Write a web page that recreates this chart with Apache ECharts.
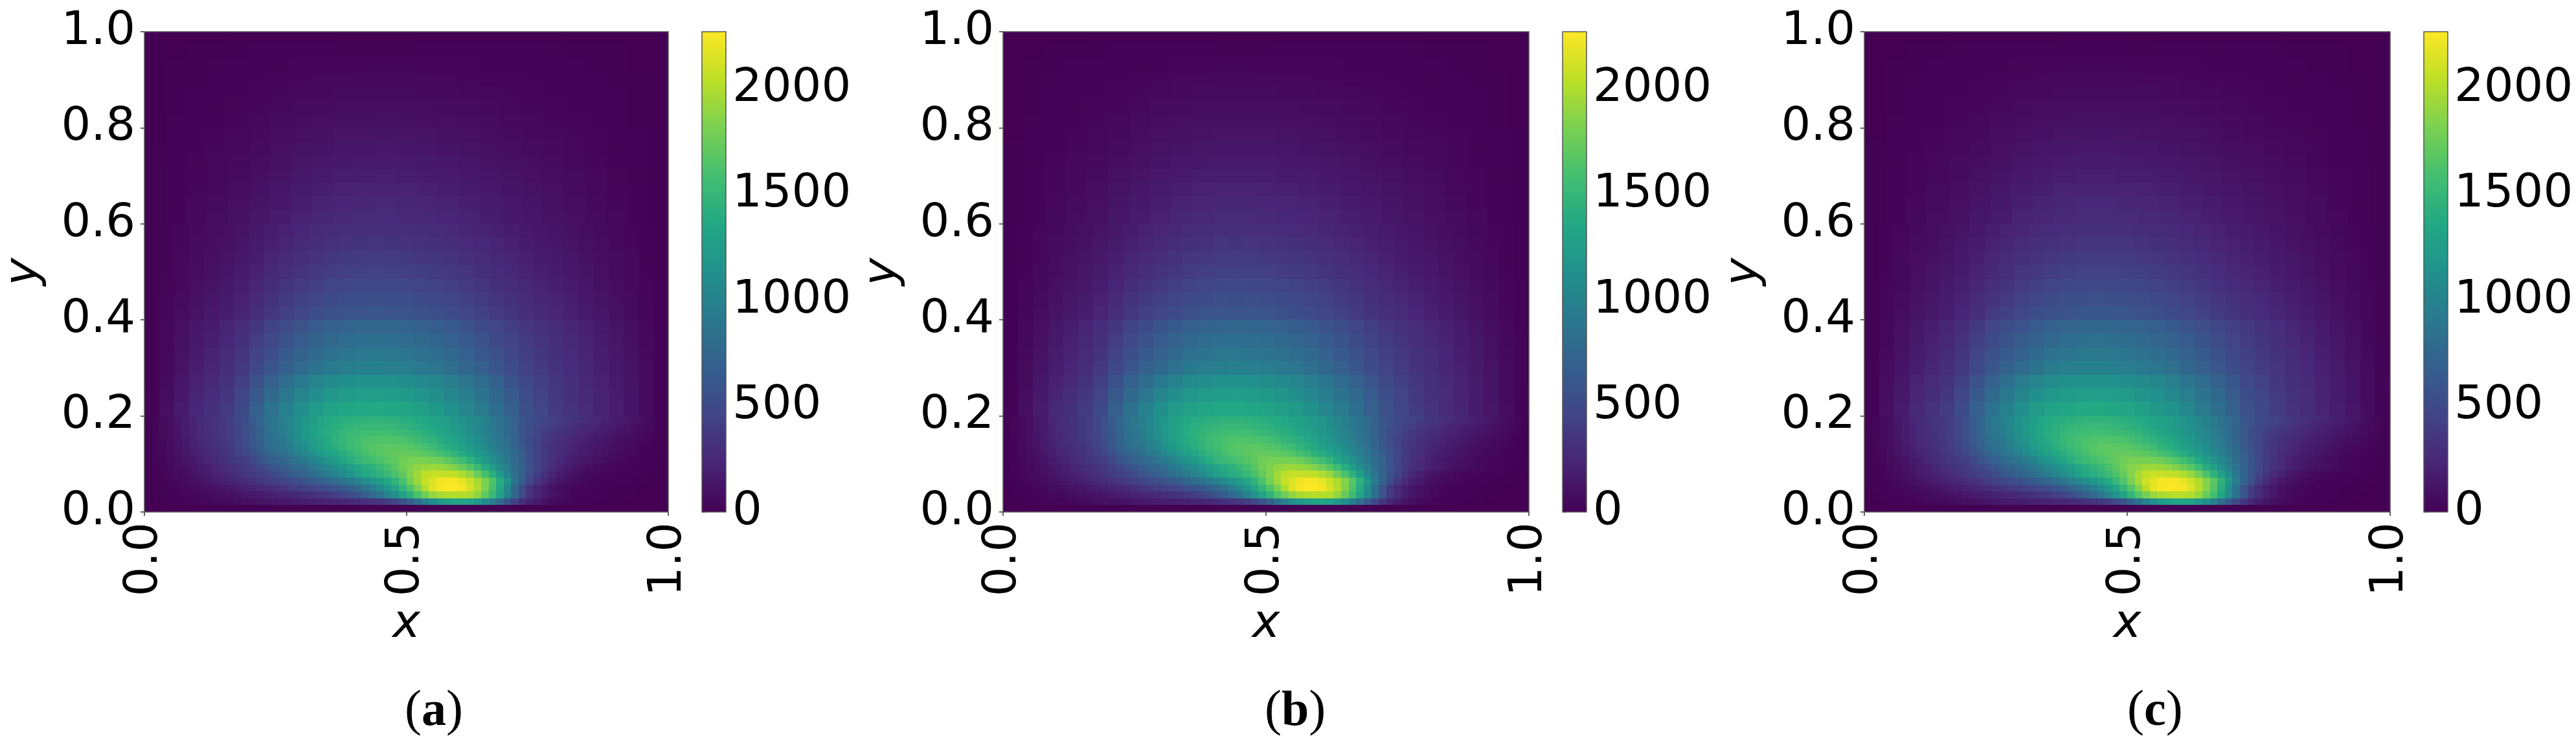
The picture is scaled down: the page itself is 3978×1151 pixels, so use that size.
<!DOCTYPE html>
<html>
<head>
<meta charset="utf-8">
<script src="https://cdn.jsdelivr.net/npm/echarts@6/dist/echarts.min.js"></script>
<style>html,body{margin:0;padding:0;background:#fff}#c{width:3978px;height:1151px}</style>
</head>
<body>
<div id="c"></div>
<script>
const panelNames = ['a', 'b', 'c'];
const colorbarTicks = [0, 500, 1000, 1500, 2000];
const colorbarMax = 2270;
const viridis = ['#440154','#482475','#414487','#355f8d','#2a788e','#21918c','#22a884','#44bf70','#7ad151','#bddf26','#fde725'];
// Row heights of the three tables, bottom to top.
const bandRowHeights = [1/70, 1/35, 1/35];

const fineA = [
[0,0,0,0,0,0,0,0,0,0,0,0,0,0,0,0,0,0,0,0,0,0,0,0,0,0,0,0,0,0,0,0,0,0,0,0,0,0,0,0,0,0,0,0,0,0,0,0,0,0,0,0,0,0,0,0,0,0,0,0,0,0,0,0,0,0,0,0,0,0],
[1,3,6,10,14,19,25,32,40,48,57,66,76,86,97,108,120,135,150,165,175,185,195,205,215,225,240,255,275,300,330,365,410,470,560,680,830,980,1110,1200,1270,1310,1320,1300,1210,1090,950,780,600,440,310,215,150,105,75,52,36,25,17,12,9,7,5,4,3,2,2,1,1,1],
[2,6,11,17,24,32,42,52,64,76,90,104,118,134,150,168,186,205,225,250,268,290,315,340,370,410,460,520,590,670,760,850,1000,1130,1290,1450,1620,1760,1900,1960,2000,2010,2010,1990,1890,1700,1520,1270,1030,770,530,330,240,170,120,85,60,42,30,22,16,12,9,7,5,4,3,2,2,1],
[3,9,16,24,34,46,60,76,94,112,132,152,174,198,222,248,274,300,330,385,410,435,465,500,540,585,640,700,770,850,950,1060,1180,1320,1480,1640,1810,2000,2170,2240,2270,2270,2240,2130,2000,1820,1600,1350,1050,740,500,330,230,160,110,78,55,40,29,21,16,12,9,7,6,4,3,3,2,1],
[4,12,23,36,50,68,90,112,138,165,190,218,248,280,315,350,385,425,465,490,540,590,630,680,740,800,860,930,1010,1090,1160,1250,1350,1470,1610,1790,1930,2080,2150,2230,2250,2240,2180,2080,1970,1820,1640,1400,1150,880,660,480,350,250,180,130,95,70,52,39,30,23,18,14,11,8,6,4,3,2],
[5,16,30,46,64,85,112,150,175,205,240,270,305,340,380,420,450,515,580,630,690,740,800,865,930,1000,1090,1170,1260,1350,1400,1450,1520,1610,1720,1830,1950,2040,2080,2080,2060,2050,1980,1900,1750,1600,1420,1230,1030,830,680,530,410,310,235,178,135,102,78,60,46,36,28,22,17,13,10,7,5,2],
[6,18,34,53,75,100,130,165,195,235,275,305,340,370,420,480,545,595,660,720,770,830,900,960,1040,1110,1170,1260,1330,1400,1450,1520,1600,1680,1770,1840,1880,1920,1930,1920,1880,1830,1750,1650,1530,1380,1240,1090,950,800,690,560,450,360,285,225,178,140,112,90,72,58,46,37,29,22,16,11,7,3],
[7,21,40,62,88,118,155,190,225,265,310,345,375,400,480,560,640,690,740,800,860,930,1000,1080,1150,1240,1310,1400,1470,1530,1570,1615,1660,1710,1775,1800,1810,1810,1790,1770,1700,1640,1560,1460,1350,1240,1130,1020,900,780,670,550,450,370,300,250,205,168,140,115,94,77,62,49,38,28,20,14,8,4],
[8,24,46,72,104,140,180,220,250,285,325,365,415,470,545,625,710,770,830,900,980,1050,1130,1210,1280,1350,1410,1470,1520,1585,1640,1675,1700,1720,1730,1730,1720,1690,1650,1600,1530,1460,1390,1310,1230,1140,1050,960,860,760,660,550,460,375,320,275,235,200,170,145,120,100,82,65,50,37,26,17,10,4],
[8,25,50,80,115,155,198,240,270,300,340,385,440,510,590,680,780,835,885,965,1050,1125,1220,1290,1360,1420,1480,1530,1580,1625,1660,1680,1690,1690,1680,1660,1630,1590,1540,1480,1420,1360,1290,1220,1150,1070,990,910,820,725,610,525,440,365,320,280,245,215,185,160,137,116,95,78,60,45,32,20,11,5],
[9,27,54,86,122,165,210,258,288,320,358,400,460,540,620,715,820,860,905,1010,1090,1170,1260,1320,1385,1450,1500,1545,1580,1610,1630,1640,1640,1630,1610,1580,1540,1500,1460,1410,1360,1300,1240,1170,1100,1030,960,880,800,710,600,515,445,375,335,298,265,235,207,182,158,135,115,97,78,62,45,30,16,6],
[9,28,56,90,128,170,215,260,290,320,355,400,460,535,620,720,825,890,950,1035,1120,1210,1280,1345,1405,1445,1480,1515,1540,1560,1570,1575,1565,1550,1530,1500,1470,1430,1390,1345,1300,1245,1190,1130,1065,1000,930,860,785,700,595,520,460,400,360,325,292,262,235,210,185,162,140,120,100,80,60,40,22,7],
[10,30,58,92,130,175,220,265,295,325,355,405,465,535,625,725,835,900,965,1045,1125,1210,1270,1335,1385,1420,1450,1475,1490,1505,1510,1510,1500,1485,1465,1440,1410,1375,1340,1300,1260,1210,1160,1100,1040,980,910,845,775,695,600,535,480,430,395,360,325,295,265,238,212,188,165,142,120,98,75,50,28,8],
[10,30,60,95,135,180,225,270,300,330,360,410,470,540,630,730,840,905,970,1050,1125,1200,1260,1320,1370,1395,1415,1430,1445,1455,1460,1458,1450,1435,1418,1400,1372,1345,1315,1283,1250,1205,1160,1105,1050,990,920,855,790,705,600,550,505,465,430,400,365,335,305,275,250,225,198,172,148,122,92,62,34,10]
];
const midA = [
[10,88,170,250,310,385,505,680,850,985,1120,1230,1300,1340,1365,1370,1350,1320,1270,1210,1135,1040,935,810,680,545,470,385,325,270,222,175,125,72,25],
[10,78,150,225,285,350,460,620,770,900,1020,1120,1190,1230,1250,1255,1240,1215,1170,1115,1045,960,865,755,640,520,445,370,315,262,215,170,122,70,24],
[9,70,135,205,260,325,420,565,700,815,925,1015,1085,1125,1145,1150,1140,1115,1075,1025,960,880,795,695,590,490,420,355,305,255,208,165,118,68,22],
[9,60,118,180,232,290,370,485,600,695,780,860,925,965,980,985,975,955,920,880,825,755,680,600,515,440,385,330,285,240,195,155,110,62,20],
[9,55,108,165,215,270,340,445,550,635,715,785,845,880,900,905,895,878,845,808,760,695,625,555,480,412,362,315,272,230,185,145,102,58,19],
[8,50,98,150,197,248,310,405,500,578,650,715,770,803,820,825,818,802,772,738,695,637,575,510,445,385,340,297,256,216,172,134,94,53,18],
[7,45,88,135,178,225,282,365,450,520,585,645,695,725,742,748,742,728,702,672,632,580,525,468,410,358,317,277,238,198,158,120,84,48,16],
[7,38,74,112,146,184,230,294,362,418,472,520,560,585,600,602,598,588,567,543,511,470,428,383,340,300,265,232,198,165,132,98,68,38,13],
[6,34,66,100,132,166,208,264,326,378,426,468,505,528,541,546,542,532,514,491,464,428,390,349,310,275,242,212,182,150,118,89,62,35,12],
[6,30,59,90,118,148,186,236,290,337,380,418,452,473,486,490,487,478,461,441,417,385,351,315,280,249,218,191,164,135,106,79,55,31,11],
[5,26,52,79,104,131,165,207,254,295,333,367,398,416,428,432,429,421,407,390,368,340,311,279,248,221,194,170,145,118,92,69,48,27,9],
[5,23,47,71,93,118,148,186,228,265,299,330,357,374,384,388,385,378,365,350,330,306,280,251,224,199,175,153,130,106,83,62,43,24,8],
[4,21,42,63,83,105,132,166,203,236,266,293,317,332,341,345,342,336,325,311,294,272,249,224,200,178,156,137,116,95,74,55,38,22,7],
[4,18,37,56,74,93,117,147,180,209,236,260,281,295,303,306,304,298,288,276,261,242,221,199,178,158,139,122,103,84,66,49,34,19,6]
];
const topA = [
[7,27,50,75,100,134,169,210,240,261,270,272,265,253,236,212,187,158,135,111,89,67,44,25,8],
[6,24,45,67,90,120,152,189,216,234,242,245,238,227,212,190,168,142,122,100,80,60,39,22,7],
[6,21,40,60,80,107,135,168,192,208,215,218,212,202,188,169,149,126,108,89,71,53,35,20,6],
[5,19,35,52,69,93,118,146,167,182,188,190,185,176,164,148,130,110,94,78,62,47,30,17,6],
[4,16,30,45,60,81,103,127,146,158,164,165,161,153,143,129,113,96,82,68,54,41,26,15,5],
[4,14,26,39,52,70,88,110,125,136,141,142,138,132,123,110,97,83,71,58,46,35,23,13,4],
[3,12,22,33,44,59,74,92,105,114,118,120,116,111,103,93,82,69,59,49,39,29,19,11,4],
[3,10,18,27,37,49,62,77,88,96,99,100,97,93,87,78,69,58,50,41,33,25,16,9,3],
[2,8,15,23,30,40,51,63,72,79,81,82,80,76,71,64,56,48,41,34,27,20,13,8,2],
[2,6,12,18,24,32,41,51,58,63,65,66,64,61,57,51,45,38,33,27,22,16,11,6,2],
[1,5,9,14,19,25,32,39,45,49,51,51,50,47,44,40,35,30,25,21,17,13,8,5,2],
[1,4,7,10,14,18,23,29,33,35,37,37,36,34,32,29,25,22,18,15,12,9,6,3,1],
[1,2,4,7,9,12,15,19,21,23,24,24,23,22,21,19,16,14,12,10,8,6,4,2,1],
[0,1,2,3,4,5,6,8,9,10,10,10,10,9,9,8,7,6,5,4,3,2,2,1,0]
];

const fineB = [
[0,0,0,0,0,0,0,0,0,0,0,0,0,0,0,0,0,0,0,0,0,0,0,0,0,0,0,0,0,0,0,0,0,0,0,0,0,0,0,0,0,0,0,0,0,0,0,0,0,0,0,0,0,0,0,0,0,0,0,0,0,0,0,0,0,0,0,0,0,0],
[1,3,6,10,15,20,26,33,41,50,59,68,78,88,99,110,122,137,152,166,176,186,196,206,216,228,243,258,278,303,335,372,420,485,575,695,845,990,1115,1205,1275,1315,1325,1305,1220,1110,975,810,640,480,345,240,170,120,85,60,42,29,20,14,10,8,6,4,3,3,2,1,1,1],
[2,6,11,18,25,34,44,55,67,80,94,108,123,139,156,174,192,212,232,252,270,292,316,342,372,412,462,522,592,672,762,858,1010,1140,1300,1460,1630,1770,1900,1960,2000,2015,2015,1995,1905,1725,1550,1310,1080,830,590,380,275,195,138,98,69,48,34,25,18,13,10,8,6,4,3,2,2,1],
[3,9,17,25,36,48,63,80,98,117,137,158,180,204,228,254,280,306,335,378,404,430,460,495,535,580,635,695,765,845,945,1055,1180,1320,1475,1630,1800,1990,2160,2235,2270,2270,2240,2140,2010,1840,1630,1390,1110,820,570,385,265,185,128,90,64,46,33,24,18,14,10,8,6,5,4,3,2,1],
[4,13,24,37,52,70,92,114,140,167,192,220,250,282,317,352,387,427,467,488,536,586,626,676,736,796,856,926,1006,1086,1156,1245,1345,1465,1605,1785,1925,2070,2145,2225,2250,2240,2185,2090,1985,1840,1665,1440,1200,940,720,530,390,280,200,145,106,78,58,44,33,26,20,15,12,9,6,4,3,2],
[5,16,31,47,66,87,115,153,178,208,243,273,308,343,383,423,453,517,582,628,686,736,796,860,925,995,1085,1165,1255,1345,1395,1445,1515,1605,1715,1825,1945,2035,2080,2080,2060,2050,1985,1910,1765,1620,1445,1265,1075,880,725,575,450,340,260,198,150,114,87,67,52,40,31,24,19,14,11,8,5,2],
[6,19,35,55,77,103,133,168,198,238,278,308,343,373,423,483,548,598,662,716,766,826,896,956,1036,1106,1166,1256,1326,1395,1445,1515,1595,1675,1765,1835,1880,1920,1930,1920,1885,1835,1760,1665,1545,1400,1265,1120,980,835,720,590,480,385,305,262,210,172,146,120,98,80,65,51,40,30,21,14,8,4],
[7,22,41,64,90,121,158,193,228,268,313,348,378,403,483,563,642,692,742,796,856,926,996,1076,1146,1236,1306,1396,1466,1525,1565,1610,1655,1705,1770,1795,1805,1805,1790,1770,1705,1645,1570,1475,1365,1255,1150,1040,920,805,695,575,472,388,318,262,215,178,148,122,100,82,66,52,40,30,21,14,8,4],
[8,25,47,74,106,143,183,223,253,288,328,368,418,473,548,628,712,772,830,896,976,1046,1126,1206,1276,1346,1406,1466,1516,1580,1635,1670,1695,1715,1725,1725,1715,1685,1650,1600,1535,1465,1400,1320,1240,1155,1065,975,880,780,680,570,478,392,330,284,243,208,177,150,125,104,85,67,52,38,27,17,10,4],
[8,26,51,82,117,158,201,243,273,303,343,388,443,513,593,682,780,833,882,960,1045,1120,1215,1285,1355,1415,1475,1525,1575,1620,1655,1675,1685,1685,1675,1655,1625,1585,1540,1480,1425,1365,1295,1230,1160,1080,1005,925,835,740,625,538,452,376,330,289,254,222,191,166,142,120,98,80,62,46,33,21,11,5],
[9,28,55,88,124,168,213,261,291,323,361,403,463,543,622,716,820,858,902,1005,1085,1165,1255,1315,1380,1445,1495,1540,1575,1605,1625,1635,1635,1625,1605,1575,1535,1495,1460,1410,1365,1305,1245,1180,1110,1040,970,890,810,720,612,527,456,385,345,306,272,242,213,187,162,139,118,100,80,63,46,31,16,6],
[9,29,57,92,130,173,218,263,293,323,358,403,463,538,622,722,825,888,946,1030,1115,1205,1275,1340,1400,1440,1475,1510,1535,1555,1565,1570,1560,1545,1525,1495,1465,1425,1390,1345,1300,1250,1195,1135,1075,1010,940,870,795,710,606,532,471,410,370,333,300,269,241,215,190,166,144,123,102,82,61,41,22,7],
[10,31,59,94,132,178,223,268,298,328,358,408,468,538,627,727,835,898,960,1040,1120,1205,1265,1330,1380,1415,1445,1470,1485,1500,1505,1505,1495,1480,1460,1435,1405,1370,1340,1300,1260,1215,1165,1105,1045,985,915,850,780,700,610,546,490,440,405,368,333,302,271,244,217,193,169,146,123,100,77,51,28,8],
[10,31,61,97,138,183,228,273,303,333,363,413,473,543,632,732,840,903,965,1045,1120,1195,1255,1315,1365,1390,1410,1425,1440,1450,1455,1453,1445,1430,1413,1395,1367,1340,1315,1283,1250,1208,1163,1108,1053,993,924,858,794,710,608,560,514,474,438,408,372,342,311,281,255,230,202,176,151,125,94,63,34,10]
];
const midB = [
[11,90,173,254,314,388,507,680,848,982,1116,1226,1296,1335,1360,1365,1345,1316,1268,1210,1137,1044,940,816,688,553,478,392,330,275,226,178,127,73,25],
[10,80,153,229,289,353,462,620,768,897,1016,1116,1186,1226,1246,1250,1236,1211,1168,1114,1046,963,870,760,647,527,452,376,320,267,219,173,124,71,24],
[10,72,138,209,264,328,422,565,698,812,921,1011,1081,1121,1141,1146,1136,1112,1073,1024,961,883,800,700,596,496,426,360,310,259,212,168,120,69,22],
[9,62,121,184,236,293,372,485,598,692,776,856,921,961,976,981,971,951,918,879,826,758,685,605,521,446,390,335,289,244,198,158,112,63,20],
[9,56,111,168,218,273,342,445,548,632,711,781,841,876,896,901,891,875,843,807,761,698,630,560,486,418,367,320,276,234,188,147,103,59,19],
[8,51,100,153,200,251,312,405,498,575,646,711,766,799,816,821,814,799,770,737,696,640,580,515,450,390,345,301,260,219,175,136,95,54,18],
[8,46,90,138,181,228,284,365,448,517,581,641,691,721,738,744,738,725,700,671,632,583,529,472,414,362,321,281,241,201,160,122,85,48,16],
[7,39,76,115,149,187,232,294,360,415,469,516,556,581,596,598,594,585,565,542,510,472,431,386,344,304,269,236,201,167,134,99,69,38,13],
[6,35,68,102,134,168,210,264,324,375,423,465,501,524,537,542,538,529,512,490,463,430,393,352,313,278,245,215,184,152,120,90,63,35,12],
[6,31,60,92,120,150,188,236,288,334,377,415,448,469,482,486,483,475,459,440,416,387,354,318,283,252,221,194,166,137,108,80,56,31,11],
[5,27,53,81,106,133,167,208,252,292,330,364,394,412,424,428,425,418,405,389,367,342,314,282,251,224,197,173,147,120,93,70,49,27,9],
[5,24,48,73,95,120,150,187,226,262,296,327,353,370,380,384,381,375,363,349,329,308,283,254,227,202,178,156,132,108,84,63,44,24,8],
[4,22,43,65,85,107,134,167,201,233,263,290,313,328,337,341,338,333,323,310,293,274,252,227,203,181,159,139,118,97,75,56,39,22,7],
[4,19,38,57,76,95,119,148,178,206,233,257,277,291,299,302,300,295,286,275,260,243,223,201,181,161,142,124,105,86,67,50,35,19,6]
];
const topB = [
[7,28,51,77,102,136,170,208,238,258,267,269,262,251,235,213,188,160,137,113,91,68,45,25,8],
[6,25,46,69,92,122,153,188,214,232,240,243,236,225,211,190,169,144,124,102,82,61,40,22,7],
[6,22,41,61,82,109,137,167,190,206,213,216,210,200,187,169,150,128,110,91,73,54,36,20,6],
[5,19,36,53,71,95,119,145,165,180,186,188,183,175,163,148,131,111,96,80,63,48,31,17,6],
[4,17,31,46,61,83,104,126,144,156,162,163,159,152,142,129,114,97,83,69,55,42,27,15,5],
[4,14,27,40,53,72,89,109,124,134,139,140,136,131,122,110,98,84,72,59,47,36,23,13,4],
[3,12,23,34,45,60,75,91,104,113,117,118,115,110,102,93,82,70,60,50,40,30,19,11,4],
[3,10,19,28,38,50,63,76,87,95,98,99,96,92,86,78,69,59,51,42,33,25,16,9,3],
[2,8,16,23,31,41,51,62,71,78,80,81,79,75,70,64,56,48,42,34,27,20,13,8,2],
[2,6,13,19,25,33,41,50,57,62,64,65,63,60,56,51,45,39,33,28,22,16,11,6,2],
[1,5,10,14,19,26,32,38,44,48,50,50,49,46,44,40,35,30,26,21,17,13,8,5,2],
[1,4,7,11,14,18,23,28,32,35,36,36,35,33,32,29,25,22,19,15,12,9,6,3,1],
[1,2,4,7,9,12,15,18,21,22,23,24,23,22,21,19,16,14,12,10,8,6,4,2,1],
[0,1,2,3,4,5,6,8,9,9,10,10,10,9,9,8,7,6,5,4,3,2,2,1,0]
];

const fineC = [
[0,0,0,0,0,0,0,0,0,0,0,0,0,0,0,0,0,0,0,0,0,0,0,0,0,0,0,0,0,0,0,0,0,0,0,0,0,0,0,0,0,0,0,0,0,0,0,0,0,0,0,0,0,0,0,0,0,0,0,0,0,0,0,0,0,0,0,0,0,0],
[1,3,6,10,15,21,27,34,42,51,60,70,80,90,101,112,125,140,155,168,178,188,198,208,219,232,247,262,282,308,340,378,428,495,590,715,865,1005,1130,1215,1280,1318,1328,1310,1230,1125,990,830,660,500,360,252,178,126,90,63,44,30,21,15,11,8,6,4,3,3,2,1,1,1],
[2,6,12,18,26,35,45,56,69,82,96,111,126,142,159,177,196,216,236,255,273,295,320,346,376,416,466,526,598,680,772,870,1025,1155,1320,1480,1650,1790,1920,1975,2010,2020,2020,2000,1915,1745,1570,1330,1100,855,615,400,290,205,145,103,72,50,36,26,19,14,11,8,6,4,3,2,2,1],
[3,10,17,26,37,50,65,82,101,120,141,162,185,209,234,260,287,314,342,382,408,434,465,500,540,586,642,705,778,860,960,1070,1195,1335,1495,1655,1830,2030,2185,2245,2270,2270,2240,2150,2025,1860,1655,1410,1130,840,590,400,278,195,135,95,68,48,35,26,19,14,11,9,7,5,4,3,2,1],
[4,14,25,38,54,73,95,118,145,172,198,226,257,290,325,360,396,436,476,500,550,600,642,692,752,815,878,950,1032,1115,1185,1275,1380,1500,1640,1815,1955,2100,2180,2240,2250,2240,2190,2100,1995,1855,1680,1455,1215,960,740,545,400,290,208,150,110,81,60,45,34,27,21,16,12,9,7,5,3,2],
[5,17,32,49,68,90,118,157,183,213,249,280,316,352,392,433,464,528,594,642,702,752,812,878,944,1014,1104,1186,1276,1366,1412,1462,1535,1625,1735,1845,1965,2055,2090,2085,2060,2050,1990,1915,1775,1630,1460,1280,1090,895,740,590,462,350,268,205,155,118,90,70,54,42,32,25,19,15,11,8,5,2],
[6,19,36,56,79,105,136,172,203,243,284,315,350,381,432,492,558,608,672,730,780,840,910,970,1050,1120,1180,1270,1340,1410,1460,1530,1610,1690,1780,1845,1885,1925,1930,1920,1885,1835,1765,1670,1555,1410,1275,1135,995,850,735,605,492,395,315,272,218,178,152,126,104,85,69,54,42,31,22,15,8,4],
[7,22,42,65,92,123,161,197,232,273,319,354,384,410,490,570,650,700,750,806,866,936,1006,1086,1156,1246,1316,1406,1476,1535,1575,1620,1665,1715,1775,1800,1808,1808,1790,1770,1710,1650,1575,1485,1375,1265,1160,1055,935,820,710,590,485,400,328,270,222,184,153,126,104,85,68,54,41,31,22,15,8,4],
[8,26,48,76,109,146,187,228,258,293,334,374,424,480,555,636,720,780,840,906,986,1056,1136,1216,1286,1356,1416,1476,1526,1590,1640,1675,1700,1720,1728,1728,1718,1688,1652,1602,1540,1470,1405,1330,1250,1165,1075,985,890,790,690,580,488,400,338,292,250,214,182,155,129,107,88,69,53,39,27,18,10,4],
[9,27,52,84,120,161,205,248,278,309,350,395,450,520,600,690,790,843,893,970,1055,1130,1225,1295,1365,1425,1485,1535,1585,1630,1665,1685,1692,1692,1680,1658,1628,1590,1545,1485,1430,1370,1305,1240,1170,1090,1015,935,845,750,640,552,464,388,340,298,262,229,197,171,147,124,101,83,64,48,34,22,12,5],
[9,29,56,90,127,171,217,266,296,329,367,409,470,550,630,725,830,868,912,1015,1095,1175,1265,1325,1390,1455,1505,1550,1585,1615,1635,1645,1645,1632,1610,1580,1540,1500,1465,1415,1370,1310,1255,1190,1120,1050,980,900,820,730,625,540,467,395,354,314,280,249,219,193,167,143,121,103,83,65,47,32,17,6],
[9,30,58,93,132,176,222,268,298,329,364,410,470,545,630,730,835,898,958,1042,1127,1217,1287,1352,1412,1452,1487,1522,1547,1567,1575,1578,1568,1552,1532,1502,1472,1432,1395,1350,1305,1255,1200,1145,1085,1020,950,880,805,720,618,544,482,420,378,341,307,275,247,220,194,170,147,126,105,84,63,42,23,7],
[10,32,60,96,135,181,227,273,304,334,365,415,476,546,636,736,846,909,972,1052,1132,1217,1277,1342,1392,1427,1457,1482,1497,1510,1515,1515,1503,1488,1468,1443,1413,1378,1345,1305,1265,1220,1170,1115,1055,995,925,860,790,710,622,558,502,450,414,376,340,309,277,249,222,197,173,149,126,103,78,52,29,8],
[10,32,62,98,140,186,232,278,309,339,369,420,480,550,640,740,850,915,978,1058,1132,1207,1267,1327,1377,1402,1422,1437,1452,1460,1465,1463,1455,1440,1423,1405,1377,1350,1322,1290,1255,1213,1168,1115,1060,1000,932,866,802,718,620,572,525,484,448,417,380,349,318,287,260,235,206,179,154,127,96,64,35,10]
];
const midC = [
[11,92,176,258,320,394,515,690,858,992,1126,1236,1306,1345,1370,1375,1355,1324,1276,1218,1144,1050,946,822,694,558,484,396,334,278,228,180,128,74,26],
[11,82,156,233,294,359,470,630,778,907,1026,1126,1196,1236,1256,1260,1246,1220,1176,1122,1053,970,876,766,652,532,456,380,323,270,222,175,126,72,25],
[10,73,140,213,269,334,429,575,708,822,931,1021,1091,1131,1151,1156,1146,1121,1081,1032,968,889,806,706,602,501,430,364,313,262,214,170,122,70,23],
[10,63,123,187,240,298,378,494,608,702,786,866,931,971,986,991,981,961,926,886,832,764,690,610,526,450,394,339,292,247,201,160,113,64,21],
[9,57,113,171,222,278,348,453,558,642,721,791,851,886,906,911,901,884,851,814,767,704,635,565,491,422,371,324,279,237,191,149,104,60,20],
[8,52,102,156,204,255,317,413,508,585,656,721,776,809,826,831,824,808,778,744,702,646,585,520,455,394,349,305,263,222,178,138,96,55,18],
[8,47,92,140,184,232,289,373,458,527,591,651,701,731,748,754,748,734,708,678,638,589,534,477,419,366,325,285,244,204,163,124,86,49,16],
[7,40,77,117,152,190,237,301,369,425,478,526,566,591,606,608,604,594,573,549,517,478,436,391,348,308,272,239,204,170,136,101,70,39,13],
[7,36,69,104,137,171,214,270,332,384,432,474,511,534,547,552,548,538,520,497,470,436,398,357,317,282,248,218,187,154,122,91,64,36,12],
[6,32,61,94,122,153,192,241,295,342,385,423,457,478,491,495,492,483,466,446,422,392,358,322,287,255,224,196,168,139,109,81,56,32,11],
[5,28,54,83,108,136,170,212,258,299,337,371,402,420,432,436,433,425,411,394,372,346,318,285,254,227,199,175,149,122,94,71,49,28,9],
[5,24,49,74,97,122,153,191,232,269,303,334,361,378,388,392,389,382,369,354,334,311,286,257,229,204,180,158,134,109,85,64,44,25,8],
[5,22,44,66,87,109,136,171,207,240,270,297,321,336,345,349,346,340,329,315,298,277,255,230,205,183,161,141,119,98,76,57,39,22,7],
[4,19,39,58,77,97,121,152,184,213,240,264,285,299,307,310,308,302,292,280,265,247,227,205,183,163,143,126,107,87,68,51,35,20,6]
];
const topC = [
[7,28,52,78,104,138,173,214,244,265,274,276,269,257,240,216,191,162,139,114,92,69,45,26,8],
[6,25,47,70,93,124,156,193,220,238,246,249,242,231,216,194,171,146,125,103,82,62,40,23,7],
[6,22,42,63,83,111,139,172,196,212,219,222,216,206,192,173,152,129,111,92,73,55,36,21,6],
[5,20,37,54,72,96,122,150,171,186,192,194,189,180,168,151,133,113,97,80,64,48,31,18,6],
[4,17,31,47,62,84,106,130,149,161,167,168,164,156,146,132,116,98,84,70,56,42,27,15,5],
[4,15,27,41,54,72,91,113,128,139,144,145,141,135,126,113,99,85,73,60,47,36,24,13,4],
[3,12,23,34,46,61,76,94,107,116,120,122,118,113,105,95,84,71,61,50,40,30,20,11,4],
[3,10,19,28,38,51,64,79,90,98,101,102,99,95,89,80,70,60,51,42,34,26,16,9,3],
[2,8,16,24,31,41,52,64,73,80,83,84,81,77,72,65,57,49,42,35,28,21,13,8,2],
[2,6,13,19,25,33,42,52,59,64,66,67,65,62,58,52,46,39,34,28,22,16,11,6,2],
[1,5,10,15,20,26,33,40,46,50,52,52,51,48,45,41,36,31,26,21,17,13,8,5,2],
[1,4,7,11,15,19,24,30,34,36,38,38,37,35,33,30,26,22,19,15,12,9,6,3,1],
[1,2,4,7,10,12,16,19,22,24,25,25,24,23,22,20,17,14,12,10,8,6,4,2,1],
[0,1,2,3,4,5,7,8,9,10,11,11,10,10,9,8,7,6,5,4,3,2,2,1,0]
];
const panelBands = [[fineA, midA, topA], [fineB, midB, topB], [fineC, midC, topC]];

// Layout of the page.
const panelLeft = [220, 1549, 2879];
const plotWidth = 812, plotTop = 49, plotHeight = 742;
const barOffset = 864, barWidth = 37;
const captionLeft = [620, 1948, 3280];

const TICK_FONT = 'DejaVu Sans';
const FS = 72;

function cellsOf(bands) {
  const cells = [];
  let y = 0;
  bands.forEach((rows, b) => {
    const h = bandRowHeights[b];
    rows.forEach(row => {
      const w = 1 / row.length;
      row.forEach((v, i) => cells.push([i * w, y, (i + 1) * w, y + h, v]));
      y += h;
    });
  });
  return cells;
}

function rectFromApi(api) {
  const a = api.coord([api.value(0), api.value(1)]);
  const b = api.coord([api.value(2), api.value(3)]);
  const x0 = Math.round(a[0]), x1 = Math.round(b[0]);
  const y0 = Math.round(b[1]), y1 = Math.round(a[1]);
  return { x: x0, y: y0, width: x1 - x0, height: y1 - y0 };
}

function renderCell(params, api) {
  return { type: 'rect', shape: rectFromApi(api), style: { fill: api.visual('color') } };
}
function renderFrame(params, api) {
  return { type: 'rect', shape: rectFromApi(api), style: { fill: 'none', stroke: '#555', lineWidth: 1.5 } };
}
function renderBar(params, api) {
  const s = rectFromApi(api);
  const stops = viridis.map((c, i) => ({ offset: 1 - i / (viridis.length - 1), color: c }));
  return { type: 'rect', shape: s,
    style: { fill: new echarts.graphic.LinearGradient(0, 0, 0, 1, stops), stroke: '#555', lineWidth: 1.5 } };
}

const grids = [], xAxes = [], yAxes = [], series = [], titles = [];
const tickStyle = { color: '#333', width: 1.5 };

panelNames.forEach((name, p) => {
  grids.push({ left: panelLeft[p], top: plotTop, width: plotWidth, height: plotHeight, containLabel: false });
  grids.push({ left: panelLeft[p] + barOffset, top: plotTop, width: barWidth, height: plotHeight, containLabel: false });

  xAxes.push({
    gridIndex: 2 * p, type: 'value', min: 0, max: 1, interval: 0.5, name: 'x',
    nameLocation: 'middle', nameGap: 130,
    nameTextStyle: { fontFamily: TICK_FONT, fontStyle: 'italic', fontSize: FS, color: '#000' },
    splitLine: { show: false }, axisLine: { show: false },
    axisTick: { show: true, length: 6, lineStyle: tickStyle },
    axisLabel: { show: true, rotate: 90, margin: 16, fontFamily: TICK_FONT, fontSize: FS, color: '#000',
      hideOverlap: false, showMinLabel: true, showMaxLabel: true, formatter: v => v.toFixed(1) }
  });
  yAxes.push({
    gridIndex: 2 * p, type: 'value', min: 0, max: 1, interval: 0.2, name: 'y',
    nameLocation: 'middle', nameGap: 150,
    nameTextStyle: { fontFamily: TICK_FONT, fontStyle: 'italic', fontSize: FS, color: '#000' },
    splitLine: { show: false }, axisLine: { show: false },
    axisTick: { show: true, length: 6, lineStyle: tickStyle },
    axisLabel: { show: true, margin: 14, fontFamily: TICK_FONT, fontSize: FS, color: '#000',
      hideOverlap: false, showMinLabel: true, showMaxLabel: true, formatter: v => v.toFixed(1) }
  });
  xAxes.push({ gridIndex: 2 * p + 1, type: 'value', min: 0, max: 1, show: false });
  yAxes.push({
    gridIndex: 2 * p + 1, type: 'value', position: 'right', min: 0, max: colorbarMax,
    splitLine: { show: false }, axisLine: { show: false },
    axisTick: { show: true, length: 6, lineStyle: tickStyle, customValues: colorbarTicks },
    axisLabel: { show: true, margin: 10, fontFamily: TICK_FONT, fontSize: FS, color: '#000',
      hideOverlap: false, customValues: colorbarTicks, formatter: v => String(v) }
  });

  series.push({
    type: 'custom', name: 'panel ' + name, xAxisIndex: 2 * p, yAxisIndex: 2 * p,
    coordinateSystem: 'cartesian2d', renderItem: renderCell, clip: false,
    encode: { x: [0, 2], y: [1, 3] }, data: cellsOf(panelBands[p]),
    progressive: 0, animation: false, silent: true
  });
});
panelNames.forEach((name, p) => {
  series.push({
    type: 'custom', xAxisIndex: 2 * p, yAxisIndex: 2 * p, renderItem: renderFrame, clip: false, z: 5,
    encode: { x: [0, 2], y: [1, 3] }, data: [[0, 0, 1, 1, 0]], animation: false, silent: true
  });
  series.push({
    type: 'custom', xAxisIndex: 2 * p + 1, yAxisIndex: 2 * p + 1, renderItem: renderBar, clip: false,
    encode: { x: [0, 2], y: [1, 3] }, data: [[0, 0, 1, colorbarMax, 0]], animation: false, silent: true
  });
  titles.push({
    text: '{p|(}{b|' + name + '}{p|)}', left: captionLeft[p], top: 1056,
    textStyle: { fontWeight: 'normal', rich: {
      p: { fontFamily: 'Liberation Serif', fontSize: 78, fontWeight: 'normal', color: '#000' },
      b: { fontFamily: 'Liberation Serif', fontSize: 76, fontWeight: 'bold', color: '#000' }
    } }
  });
});

const chart = echarts.init(document.getElementById('c'), null, { renderer: 'canvas', width: 3978, height: 1151 });
chart.setOption({
  backgroundColor: '#fff', animation: false, tooltip: { show: false },
  title: titles, grid: grids, xAxis: xAxes, yAxis: yAxes,
  visualMap: { show: false, type: 'continuous', min: 0, max: colorbarMax, dimension: 4,
    seriesIndex: [0, 1, 2], inRange: { color: viridis } },
  series: series
});
</script>
</body>
</html>
